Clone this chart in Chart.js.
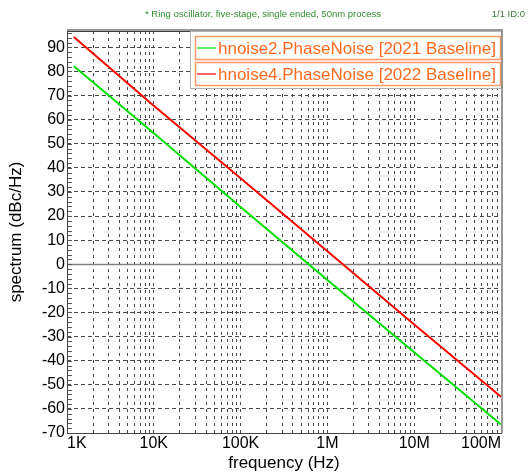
<!DOCTYPE html>
<html>
<head>
<meta charset="utf-8">
<script src="https://cdn.jsdelivr.net/npm/chart.js@4.4.1/dist/chart.umd.min.js"></script>
<style>
html, body { margin: 0; padding: 0; background: #fff; }
canvas { display: block; }
</style>
</head>
<body>
<canvas id="chart" width="529" height="474"></canvas>
<script>
// values
const freq = [1.2e3, 1e4, 1e5, 1e6, 1e7, 1e8]
const noise2021 = [82.2, 54.4, 23.8, -6.5, -36.5, -66.5]
const noise2022 = [94.3, 65.8, 35.7, 5.4, -25, -55]
const seriesNames = ["hnoise2.PhaseNoise [2021 Baseline]", "hnoise4.PhaseNoise [2022 Baseline]"]
const seriesColors = ["#00e000", "#ff0000"]

const xDecades = [1e3, 1e4, 1e5, 1e6, 1e7, 1e8]
const xLabels = ["1K", "10K", "100K", "1M", "10M", "100M"]
const yTicks = [-70, -60, -50, -40, -30, -20, -10, 0, 10, 20, 30, 40, 50, 60, 70, 80, 90]

const subtitle = "* Ring oscillator, five-stage, single ended, 50nm process"
const pageId = "1/1 ID:0"

// log grid: 1..9 in every decade
const xTicks = []
for (let i = 0; i < xDecades.length - 1; i++) {
    for (let m = 1; m < 10; m++) xTicks.push(xDecades[i] * m)
}
xTicks.push(xDecades[xDecades.length - 1])

Chart.defaults.font.family = "'Liberation Sans', Arial, sans-serif"
Chart.defaults.color = "#000"

const decor = {
    id: "decor",
    beforeDraw(chart) {
        const ctx = chart.ctx
        ctx.save()
        ctx.fillStyle = "#fff"
        ctx.fillRect(0, 0, chart.width, chart.height)
        ctx.font = "9.5px 'Liberation Sans', Arial, sans-serif"
        ctx.fillStyle = "#2f8f2f"
        ctx.textBaseline = "middle"
        ctx.textAlign = "center"
        ctx.fillText(subtitle, 263, 14)
        ctx.textAlign = "right"
        ctx.fillStyle = "#3d7a3d"
        ctx.fillText(pageId, 525, 14)
        ctx.restore()
    },
    beforeDatasetsDraw(chart) {
        const ctx = chart.ctx
        const a = chart.chartArea
        const y0 = Math.round(chart.scales.y.getPixelForValue(0)) + 0.5
        ctx.save()
        ctx.strokeStyle = "#808080"
        ctx.lineWidth = 1.5
        ctx.beginPath()
        ctx.moveTo(a.left, y0)
        ctx.lineTo(a.right, y0)
        ctx.stroke()
        ctx.restore()
    },
    afterDatasetsDraw(chart) {
        const ctx = chart.ctx
        const a = chart.chartArea
        const ys = chart.scales.y
        ctx.save()

        // minor ticks on the left edge
        ctx.strokeStyle = "#555"
        ctx.lineWidth = 1
        ctx.beginPath()
        for (let v = -70; v <= 96; v += 2) {
            const y = Math.round(ys.getPixelForValue(v)) + 0.5
            ctx.moveTo(a.left, y)
            ctx.lineTo(a.left + 5, y)
        }
        ctx.stroke()

        // frame
        ctx.strokeStyle = "#444"
        ctx.strokeRect(Math.round(a.left) + 0.5, Math.round(a.top) + 0.5, Math.round(a.right - a.left), Math.round(a.bottom - a.top))
        ctx.strokeStyle = "#999"
        ctx.lineWidth = 2
        ctx.beginPath()
        ctx.moveTo(a.left, a.top - 1)
        ctx.lineTo(a.right + 1, a.top - 1)
        ctx.lineTo(a.right + 1, a.bottom)
        ctx.stroke()

        // legend
        const lx = 190, ly = 31, lw = 311, lh = 57
        ctx.fillStyle = "#fff"
        ctx.fillRect(lx, ly, lw, lh)
        ctx.lineWidth = 1
        ctx.strokeStyle = "#b0b0b0"
        ctx.strokeRect(lx + 0.5, ly + 0.5, lw, lh)
        ctx.strokeStyle = "#888"
        ctx.beginPath()
        ctx.moveTo(lx + lw + 0.5, ly)
        ctx.lineTo(lx + lw + 0.5, ly + lh + 0.5)
        ctx.stroke()

        ctx.font = "17px 'Liberation Sans', Arial, sans-serif"
        ctx.textBaseline = "middle"
        ctx.textAlign = "left"
        chart.data.datasets.forEach((ds, i) => {
            const by = 36 + i * 26
            ctx.strokeStyle = "#ff9a66"
            ctx.lineWidth = 1.5
            ctx.strokeRect(195.5, by + 0.5, 305, 23)
            ctx.strokeStyle = ds.borderColor
            ctx.lineWidth = 1.2
            ctx.beginPath()
            ctx.moveTo(197, by + 12)
            ctx.lineTo(216, by + 12)
            ctx.stroke()
            ctx.fillStyle = "#ff6a1f"
            ctx.fillText(ds.label, 218, by + 13)
        })
        ctx.restore()
    }
}

new Chart(document.getElementById("chart"), {
    type: "line",
    data: {
        datasets: [
            {
                label: seriesNames[0],
                data: freq.map((f, i) => ({ x: f, y: noise2021[i] })),
                borderColor: seriesColors[0],
                borderWidth: 2,
                pointRadius: 0,
                tension: 0
            },
            {
                label: seriesNames[1],
                data: freq.map((f, i) => ({ x: f, y: noise2022[i] })),
                borderColor: seriesColors[1],
                borderWidth: 2,
                pointRadius: 0,
                tension: 0
            }
        ]
    },
    options: {
        responsive: false,
        animation: false,
        devicePixelRatio: 1,
        layout: { padding: { left: 0, right: 28, top: 31, bottom: 0 } },
        plugins: {
            legend: { display: false },
            tooltip: { enabled: false }
        },
        scales: {
            x: {
                type: "logarithmic",
                min: 1e3,
                max: 1e8,
                afterBuildTicks: (scale) => { scale.ticks = xTicks.map(v => ({ value: v })) },
                afterFit: (scale) => { scale.height = 41 },
                grid: { color: "#4a4a4a", lineWidth: 1, drawTicks: false },
                border: { display: false, dash: [3, 4] },
                ticks: {
                    autoSkip: false,
                    maxRotation: 0,
                    align: "inner",
                    padding: 1,
                    font: { size: 16 },
                    callback: (v) => {
                        const k = xDecades.indexOf(v)
                        return k >= 0 ? xLabels[k] : ""
                    }
                },
                title: { display: true, text: "frequency (Hz)", font: { size: 17 }, padding: { top: 0, bottom: 0 } }
            },
            y: {
                min: -70,
                max: 96.8,
                afterBuildTicks: (scale) => { scale.ticks = yTicks.map(v => ({ value: v })) },
                afterFit: (scale) => { scale.width = 67 },
                grid: {
                    color: (c) => c.tick && c.tick.value === 0 ? "rgba(0,0,0,0)" : "#4a4a4a",
                    lineWidth: 1,
                    drawTicks: false
                },
                border: { display: false, dash: [4, 3] },
                ticks: { padding: 2, font: { size: 16 } },
                title: { display: true, text: "spectrum (dBc/Hz)", font: { size: 17 }, padding: { top: 6, bottom: 0 } }
            }
        }
    },
    plugins: [decor]
})
</script>
</body>
</html>
